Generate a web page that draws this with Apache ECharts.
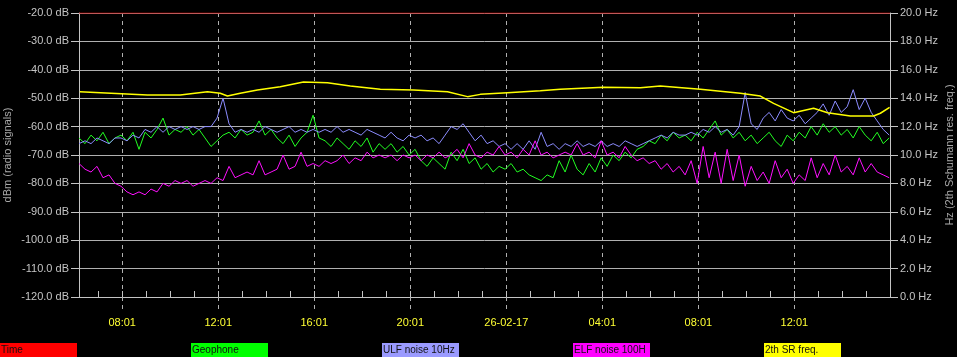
<!DOCTYPE html>
<html><head><meta charset="utf-8">
<script src="https://cdn.jsdelivr.net/npm/echarts@6/dist/echarts.min.js"></script>
<style>html,body{margin:0;padding:0;background:#000;}#c{width:957px;height:357px;}</style>
</head><body><div id="c"></div>
<script>
// time range in minutes since 25-02-17 00:00
const startMinute = 373;   // 06:13
const endMinute = 2400;    // 16:00 on 26-02-17
const sampleStep = 15;     // samples every 15 minutes from startMinute

const legendNames = ['Time', 'Geophone', 'ULF noise 10Hz', 'ELF noise 100H', '2th SR freq.'];

const geophone = [
  -64,-66,-63,-65,-62,-66,-64,-63,-65,-62,-68,
  -62,-64,-61,-57,-63,-61,-62,-60,-63,-61,
  -64,-67,-65,-63,-62,-64,-61,-63,-62,-58,
  -63,-61,-64,-66,-63,-67,-64,-62,-56,-64,
  -65,-67,-64,-66,-68,-65,-67,-64,-69,-66,
  -68,-66,-69,-67,-70,-68,-72,-74,-71,-73,
  -75,-69,-72,-68,-73,-71,-75,-73,-76,-74,
  -75,-73,-76,-75,-77,-78,-79,-77,-78,-72,
  -76,-70,-75,-77,-73,-76,-71,-74,-70,-72,
  -69,-71,-68,-67,-65,-66,-63,-65,-62,-64,
  -63,-65,-62,-64,-61,-58,-63,-61,-64,-62,
  -65,-63,-66,-64,-62,-65,-67,-63,-65,-62,
  -64,-60,-63,-59,-62,-60,-63,-61,-64,-60,
  -63,-65,-62,-66,-64
];
const ulfNoise = [
  -66,-65,-66,-64,-65,-66,-64,-64,-65,-63,-64,
  -61,-62,-60,-62,-60,-61,-60,-61,-60,-61,
  -60,-60,-57,-50,-59,-62,-61,-62,-61,-62,
  -60,-61,-62,-61,-60,-62,-61,-62,-61,-62,
  -61,-62,-60,-62,-61,-62,-63,-61,-62,-63,
  -64,-62,-64,-65,-63,-64,-63,-65,-64,-66,
  -63,-60,-61,-59,-62,-65,-63,-66,-65,-67,
  -66,-68,-66,-68,-65,-68,-62,-67,-66,-68,
  -66,-67,-65,-67,-66,-67,-65,-67,-66,-67,
  -65,-66,-67,-66,-65,-64,-63,-64,-62,-63,
  -63,-62,-63,-61,-62,-60,-62,-61,-63,-60,
  -48,-59,-61,-57,-55,-58,-54,-57,-58,-56,
  -59,-57,-55,-52,-56,-51,-55,-53,-47,-54,
  -50,-55,-58,-61,-63
];
const elfNoise = [
  -73,-75,-76,-74,-78,-77,-80,-81,-83,-84,-83,
  -84,-82,-83,-80,-81,-79,-80,-79,-81,-80,
  -79,-80,-78,-79,-74,-78,-77,-76,-77,-72,
  -77,-76,-75,-70,-75,-74,-69,-74,-73,-74,
  -72,-73,-72,-70,-73,-71,-72,-69,-71,-70,
  -71,-70,-72,-70,-71,-70,-72,-70,-71,-69,
  -71,-70,-68,-71,-66,-70,-71,-69,-70,-67,
  -70,-69,-71,-68,-70,-65,-70,-69,-71,-70,
  -69,-70,-66,-70,-69,-71,-65,-70,-69,-71,
  -67,-70,-72,-71,-73,-72,-75,-73,-76,-74,
  -77,-72,-80,-67,-78,-69,-80,-68,-79,-70,
  -81,-74,-79,-76,-80,-72,-78,-75,-80,-77,
  -79,-71,-78,-73,-77,-70,-76,-74,-77,-71,
  -76,-73,-76,-77,-78
];
// 2nd Schumann resonance frequency (Hz), hours since 25-02-17 00:00
const srHours = [6.25, 9.06, 10.44, 11.56, 12.1, 12.4, 12.94, 13.65, 14.6, 15.56, 16.56, 17.52, 18.77, 20.15, 21.56, 22.4, 22.94, 24.06, 25.44, 26.27, 28.06, 29.6, 30.44, 32.1, 33.77, 34.6, 35.15, 35.98, 36.81, 37.4, 38.35, 39.31, 39.6, 39.98];
const srFreq  = [14.46, 14.23, 14.23, 14.46, 14.35, 14.15, 14.35, 14.58, 14.81, 15.14, 15.09, 14.86, 14.63, 14.58, 14.46, 14.11, 14.27, 14.39, 14.53, 14.63, 14.77, 14.74, 14.86, 14.63, 14.35, 14.15, 13.64, 12.98, 13.29, 12.98, 12.75, 12.75, 12.94, 13.35];
const timeLine = [-20, -20];

// ---- build axis categories (one per minute) ----
const categories = [];
for (let m = startMinute; m <= endMinute; m++) {
  const day = 25 + Math.floor(m / 1440);
  const md = m % 1440;
  const hh = String(Math.floor(md / 60)).padStart(2, '0');
  const mm = String(md % 60).padStart(2, '0');
  categories.push(day + '-02-17 ' + hh + ':' + mm);
}
const lastIdx = categories.length - 1;
const idxOfMinute = m => Math.max(0, Math.min(lastIdx, Math.round(m) - startMinute));
const sampled = arr => arr.map((v, i) => [idxOfMinute(startMinute + i * sampleStep), v]);
const srData = srHours.map((h, i) => [idxOfMinute(h * 60), srFreq[i]]);
const timeData = [[0, timeLine[0]], [lastIdx, timeLine[1]]];

const is4h = i => (startMinute + i) % 240 === 1;
const isHour = i => (startMinute + i) % 60 === 1;
const labelFmt = (v, i) => {
  const m = startMinute + i;
  const md = m % 1440;
  if (md === 1) return v.split(' ')[0];
  return String(Math.floor(md / 60)).padStart(2, '0') + ':01';
};

const FONT = 'Liberation Sans, Arial, sans-serif';
const GRAY = '#c4c4c4';
const colors = ['#ff0000', '#00ff00', '#9a9aff', '#ff00ff', '#ffff00'];

const legendGraphics = [];
legendNames.forEach((n, k) => {
  legendGraphics.push({ type: 'rect', left: 191 * k, top: 343, shape: { width: 77, height: 14 }, style: { fill: colors[k] }, silent: true });
  legendGraphics.push({ type: 'text', left: 191 * k + 1, top: 345, style: { text: n, fill: '#111', font: '10px ' + FONT }, silent: true });
});

const chart = echarts.init(document.getElementById('c'), null, { renderer: 'canvas' });
chart.setOption({
  backgroundColor: '#000',
  animation: false,
  grid: { left: 79, right: 67, top: 13, bottom: 60, containLabel: false, outerBoundsMode: 'none' },
  xAxis: [{
    type: 'category', data: categories, boundaryGap: false,
    axisLine: { show: true, lineStyle: { color: GRAY, width: 1 } },
    axisTick: { show: true, inside: true, length: 6, interval: isHour, lineStyle: { color: GRAY } },
    axisLabel: { show: true, interval: is4h, formatter: labelFmt, color: '#ffff33', fontSize: 11, fontFamily: FONT, margin: 20 },
    splitLine: { show: true, interval: is4h, lineStyle: { color: '#b0b0b0', type: [4, 4], width: 1 } }
  }, {
    type: 'category', data: categories, boundaryGap: false, position: 'bottom',
    axisLine: { show: false },
    axisTick: { show: true, inside: false, length: 16, interval: is4h, lineStyle: { color: '#b0b0b0', type: [4, 4] } },
    axisLabel: { show: false },
    splitLine: { show: false }
  }],
  yAxis: [{
    type: 'value', min: -120, max: -20, interval: 10, position: 'left',
    name: 'dBm (radio signals)', nameLocation: 'middle', nameRotate: 90, nameGap: 66, nameMoveOverlap: false,
    nameTextStyle: { color: '#a8a8a8', fontSize: 11, fontFamily: FONT },
    axisLine: { show: true, lineStyle: { color: GRAY } },
    axisTick: { show: true, length: 8, lineStyle: { color: GRAY } },
    axisLabel: { color: GRAY, fontSize: 11, fontFamily: FONT, margin: 10, formatter: v => v.toFixed(1) + ' dB' },
    splitLine: { show: true, lineStyle: { color: '#b0b0b0', width: 1 } }
  }, {
    type: 'value', min: 0, max: 20, interval: 2, position: 'right',
    name: 'Hz (2th Schumann res. freq.)', nameLocation: 'middle', nameRotate: 90, nameGap: 54, nameMoveOverlap: false,
    nameTextStyle: { color: '#a8a8a8', fontSize: 11, fontFamily: FONT },
    axisLine: { show: true, lineStyle: { color: GRAY } },
    axisTick: { show: true, length: 8, lineStyle: { color: GRAY } },
    axisLabel: { color: GRAY, fontSize: 11, fontFamily: FONT, margin: 10, formatter: v => v.toFixed(1) + ' Hz' },
    splitLine: { show: false }
  }],
  series: [
    { name: legendNames[1], type: 'line', xAxisIndex: 0, yAxisIndex: 0, data: sampled(geophone), symbol: 'none', lineStyle: { color: '#22ff22', width: 1 } },
    { name: legendNames[2], type: 'line', xAxisIndex: 0, yAxisIndex: 0, data: sampled(ulfNoise), symbol: 'none', lineStyle: { color: '#8c8cff', width: 1 } },
    { name: legendNames[3], type: 'line', xAxisIndex: 0, yAxisIndex: 0, data: sampled(elfNoise), symbol: 'none', lineStyle: { color: '#ff10ff', width: 1 } },
    { name: legendNames[4], type: 'line', xAxisIndex: 0, yAxisIndex: 1, data: srData, symbol: 'none', lineStyle: { color: '#ffff00', width: 1.5 } },
    { name: legendNames[0], type: 'line', xAxisIndex: 0, yAxisIndex: 0, data: timeData, symbol: 'none', lineStyle: { color: '#d00000', width: 1 } }
  ],
  graphic: legendGraphics
});
</script></body></html>
